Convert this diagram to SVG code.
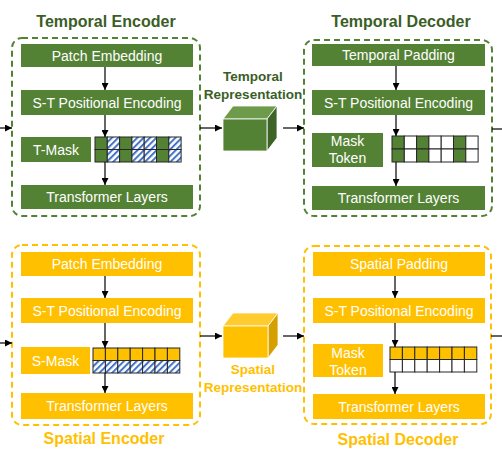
<svg xmlns="http://www.w3.org/2000/svg" width="502" height="467" viewBox="0 0 502 467">
<defs>
<style>
.g{fill:#548235}
.y{fill:#FFC000}
.lbl{font-family:"Liberation Sans",Arial,sans-serif;font-size:14px;fill:#fff;text-anchor:middle}
.tg{font-family:"Liberation Sans",Arial,sans-serif;font-size:16px;font-weight:bold;fill:#3B5E26;text-anchor:middle}
.ty{font-family:"Liberation Sans",Arial,sans-serif;font-size:16px;font-weight:bold;fill:#FFC000;text-anchor:middle}
.rg{font-family:"Liberation Sans",Arial,sans-serif;font-size:13.5px;font-weight:bold;fill:#3B5E26;text-anchor:middle}
.ry{font-family:"Liberation Sans",Arial,sans-serif;font-size:13.5px;font-weight:bold;fill:#FFC000;text-anchor:middle}
.dg{fill:none;stroke:#548235;stroke-width:2;stroke-dasharray:6 4}
.dy{fill:none;stroke:#FFC000;stroke-width:2;stroke-dasharray:6 4}
.cell{stroke:#262626;stroke-width:1}
.ln{stroke:#000;stroke-width:1.2;fill:none}
.ar{stroke:#000;stroke-width:1.2;fill:none;marker-end:url(#ah)}
</style>
<marker id="ah" viewBox="0 0 10 10" refX="10" refY="5" markerWidth="7" markerHeight="7" markerUnits="userSpaceOnUse" orient="auto">
<path d="M0,0 L10,5 L0,10 z" fill="#000"/>
</marker>
<pattern id="hatch" patternUnits="userSpaceOnUse" width="4.5" height="4.5" patternTransform="rotate(45)">
<rect width="4.5" height="4.5" fill="#fff"/>
<rect x="0" y="0" width="2" height="4.5" fill="#4472C4"/>
</pattern>
</defs>

<!-- Temporal Encoder -->
<g id="temporal-encoder">
<text class="tg" x="106" y="27">Temporal Encoder</text>
<rect class="dg" x="12" y="38" width="188" height="178" rx="10"/>
<rect class="g" x="21" y="44" width="172" height="23"/>
<text class="lbl" x="107" y="60.5">Patch Embedding</text>
<rect class="g" x="21" y="90" width="172" height="25"/>
<text class="lbl" x="107" y="107.5">S-T Positional Encoding</text>
<rect class="g" x="21" y="137" width="70" height="25"/>
<text class="lbl" x="56" y="154.5">T-Mask</text>
<g id="t-mask-grid">
<rect class="cell" x="95" y="137" width="12.3" height="12.5" fill="#548235"/>
<rect class="cell" x="107.3" y="137" width="12.3" height="12.5" fill="url(#hatch)"/>
<rect class="cell" x="119.6" y="137" width="12.3" height="12.5" fill="#548235"/>
<rect class="cell" x="131.9" y="137" width="12.3" height="12.5" fill="url(#hatch)"/>
<rect class="cell" x="144.2" y="137" width="12.3" height="12.5" fill="url(#hatch)"/>
<rect class="cell" x="156.5" y="137" width="12.3" height="12.5" fill="#548235"/>
<rect class="cell" x="168.8" y="137" width="12.3" height="12.5" fill="url(#hatch)"/>
<rect class="cell" x="95" y="149.5" width="12.3" height="12.5" fill="#548235"/>
<rect class="cell" x="107.3" y="149.5" width="12.3" height="12.5" fill="url(#hatch)"/>
<rect class="cell" x="119.6" y="149.5" width="12.3" height="12.5" fill="#548235"/>
<rect class="cell" x="131.9" y="149.5" width="12.3" height="12.5" fill="url(#hatch)"/>
<rect class="cell" x="144.2" y="149.5" width="12.3" height="12.5" fill="url(#hatch)"/>
<rect class="cell" x="156.5" y="149.5" width="12.3" height="12.5" fill="#548235"/>
<rect class="cell" x="168.8" y="149.5" width="12.3" height="12.5" fill="url(#hatch)"/>
</g>
<rect class="g" x="21" y="185" width="172" height="24"/>
<text class="lbl" x="107" y="202">Transformer Layers</text>
</g>

<!-- Temporal Representation -->
<g id="temporal-representation">
<text class="rg" x="253" y="81">Temporal</text>
<text class="rg" x="253" y="99">Representation</text>
<polygon points="223,119 233,106 277,106 267,119" fill="#6E9A4C" stroke="#fff" stroke-width="0.8"/>
<polygon points="267,119 277,106 277,138 267,151" fill="#3E6327" stroke="#fff" stroke-width="0.8"/>
<rect x="223" y="119" width="44" height="32" fill="#548235" stroke="#fff" stroke-width="0.8"/>
</g>

<!-- Temporal Decoder -->
<g id="temporal-decoder">
<text class="tg" x="401" y="27">Temporal Decoder</text>
<rect class="dg" x="304" y="40" width="188" height="176" rx="10"/>
<rect class="g" x="312" y="44" width="173" height="22"/>
<text class="lbl" x="398.5" y="60">Temporal Padding</text>
<rect class="g" x="312" y="90" width="173" height="25"/>
<text class="lbl" x="398.5" y="107.5">S-T Positional Encoding</text>
<rect class="g" x="312" y="133" width="71" height="34"/>
<text class="lbl" x="347.5" y="146">Mask</text>
<text class="lbl" x="347.5" y="163">Token</text>
<g id="t-token-grid">
<rect class="cell" x="392" y="136" width="12.3" height="13" fill="#548235"/>
<rect class="cell" x="404.3" y="136" width="12.3" height="13" fill="#fff"/>
<rect class="cell" x="416.6" y="136" width="12.3" height="13" fill="#548235"/>
<rect class="cell" x="428.9" y="136" width="12.3" height="13" fill="#fff"/>
<rect class="cell" x="441.2" y="136" width="12.3" height="13" fill="#fff"/>
<rect class="cell" x="453.5" y="136" width="12.3" height="13" fill="#548235"/>
<rect class="cell" x="465.8" y="136" width="12.3" height="13" fill="#fff"/>
<rect class="cell" x="392" y="149" width="12.3" height="13" fill="#548235"/>
<rect class="cell" x="404.3" y="149" width="12.3" height="13" fill="#fff"/>
<rect class="cell" x="416.6" y="149" width="12.3" height="13" fill="#548235"/>
<rect class="cell" x="428.9" y="149" width="12.3" height="13" fill="#fff"/>
<rect class="cell" x="441.2" y="149" width="12.3" height="13" fill="#fff"/>
<rect class="cell" x="453.5" y="149" width="12.3" height="13" fill="#548235"/>
<rect class="cell" x="465.8" y="149" width="12.3" height="13" fill="#fff"/>
</g>
<rect class="g" x="312" y="186" width="173" height="24"/>
<text class="lbl" x="398.5" y="203">Transformer Layers</text>
</g>

<!-- Spatial Encoder -->
<g id="spatial-encoder">
<rect class="dy" x="12" y="245" width="188" height="180" rx="10"/>
<rect class="y" x="21" y="252" width="172" height="24"/>
<text class="lbl" x="107" y="269">Patch Embedding</text>
<rect class="y" x="21" y="298" width="172" height="25"/>
<text class="lbl" x="107" y="315.5">S-T Positional Encoding</text>
<rect class="y" x="21" y="347" width="69" height="27"/>
<text class="lbl" x="55.5" y="365.5">S-Mask</text>
<g id="s-mask-grid">
<rect class="cell" x="93" y="348" width="12.4" height="12.5" fill="#FFC000"/>
<rect class="cell" x="105.4" y="348" width="12.4" height="12.5" fill="#FFC000"/>
<rect class="cell" x="117.8" y="348" width="12.4" height="12.5" fill="#FFC000"/>
<rect class="cell" x="130.2" y="348" width="12.4" height="12.5" fill="#FFC000"/>
<rect class="cell" x="142.6" y="348" width="12.4" height="12.5" fill="#FFC000"/>
<rect class="cell" x="155" y="348" width="12.4" height="12.5" fill="#FFC000"/>
<rect class="cell" x="167.4" y="348" width="12.4" height="12.5" fill="#FFC000"/>
<rect class="cell" x="93" y="360.5" width="12.4" height="12.5" fill="url(#hatch)"/>
<rect class="cell" x="105.4" y="360.5" width="12.4" height="12.5" fill="url(#hatch)"/>
<rect class="cell" x="117.8" y="360.5" width="12.4" height="12.5" fill="url(#hatch)"/>
<rect class="cell" x="130.2" y="360.5" width="12.4" height="12.5" fill="url(#hatch)"/>
<rect class="cell" x="142.6" y="360.5" width="12.4" height="12.5" fill="url(#hatch)"/>
<rect class="cell" x="155" y="360.5" width="12.4" height="12.5" fill="url(#hatch)"/>
<rect class="cell" x="167.4" y="360.5" width="12.4" height="12.5" fill="url(#hatch)"/>
</g>
<rect class="y" x="21" y="393" width="172" height="26"/>
<text class="lbl" x="107" y="411">Transformer Layers</text>
<text class="ty" x="104" y="444">Spatial Encoder</text>
</g>

<!-- Spatial Representation -->
<g id="spatial-representation">
<polygon points="223,326 233,313 278,313 268,326" fill="#FFCB2E" stroke="#fff" stroke-width="0.8"/>
<polygon points="268,326 278,313 278,345 268,358" fill="#D6A000" stroke="#fff" stroke-width="0.8"/>
<rect x="223" y="326" width="45" height="32" fill="#FFC000" stroke="#fff" stroke-width="0.8"/>
<text class="ry" x="253" y="374">Spatial</text>
<text class="ry" x="253" y="392">Representation</text>
</g>

<!-- Spatial Decoder -->
<g id="spatial-decoder">
<rect class="dy" x="304" y="246" width="187" height="178" rx="10"/>
<rect class="y" x="313" y="252" width="172" height="24"/>
<text class="lbl" x="399" y="269">Spatial Padding</text>
<rect class="y" x="313" y="298" width="172" height="25"/>
<text class="lbl" x="399" y="315.5">S-T Positional Encoding</text>
<rect class="y" x="313" y="344" width="70" height="33"/>
<text class="lbl" x="348" y="358">Mask</text>
<text class="lbl" x="348" y="375">Token</text>
<g id="s-token-grid">
<rect class="cell" x="390" y="347" width="12.4" height="12.5" fill="#FFC000"/>
<rect class="cell" x="402.4" y="347" width="12.4" height="12.5" fill="#FFC000"/>
<rect class="cell" x="414.8" y="347" width="12.4" height="12.5" fill="#FFC000"/>
<rect class="cell" x="427.2" y="347" width="12.4" height="12.5" fill="#FFC000"/>
<rect class="cell" x="439.6" y="347" width="12.4" height="12.5" fill="#FFC000"/>
<rect class="cell" x="452" y="347" width="12.4" height="12.5" fill="#FFC000"/>
<rect class="cell" x="464.4" y="347" width="12.4" height="12.5" fill="#FFC000"/>
<rect class="cell" x="390" y="359.5" width="12.4" height="12.5" fill="#fff"/>
<rect class="cell" x="402.4" y="359.5" width="12.4" height="12.5" fill="#fff"/>
<rect class="cell" x="414.8" y="359.5" width="12.4" height="12.5" fill="#fff"/>
<rect class="cell" x="427.2" y="359.5" width="12.4" height="12.5" fill="#fff"/>
<rect class="cell" x="439.6" y="359.5" width="12.4" height="12.5" fill="#fff"/>
<rect class="cell" x="452" y="359.5" width="12.4" height="12.5" fill="#fff"/>
<rect class="cell" x="464.4" y="359.5" width="12.4" height="12.5" fill="#fff"/>
</g>
<rect class="y" x="313" y="394" width="172" height="25"/>
<text class="lbl" x="399" y="411.5">Transformer Layers</text>
<text class="ty" x="398" y="445">Spatial Decoder</text>
</g>

<!-- Connectors -->
<g id="connectors">
<line class="ar" x1="0" y1="128" x2="12" y2="128"/>
<line class="ar" x1="105" y1="67" x2="105" y2="90"/>
<line class="ar" x1="105" y1="115" x2="105" y2="137"/>
<line class="ar" x1="105" y1="162" x2="105" y2="185"/>
<line class="ar" x1="200" y1="128" x2="222" y2="128"/>
<line class="ar" x1="283" y1="128" x2="304" y2="128"/>
<line class="ar" x1="396" y1="66" x2="396" y2="90"/>
<line class="ar" x1="396" y1="115" x2="396" y2="136"/>
<line class="ar" x1="396" y1="162" x2="396" y2="186"/>
<line class="ln" x1="492" y1="129" x2="502" y2="129"/>

<line class="ar" x1="0" y1="343" x2="12" y2="343"/>
<line class="ar" x1="105" y1="276" x2="105" y2="298"/>
<line class="ar" x1="105" y1="323" x2="105" y2="348"/>
<line class="ar" x1="105" y1="373" x2="105" y2="393"/>
<line class="ar" x1="200" y1="336" x2="222" y2="336"/>
<line class="ar" x1="283" y1="336" x2="304" y2="336"/>
<line class="ar" x1="395" y1="276" x2="395" y2="298"/>
<line class="ar" x1="395" y1="323" x2="395" y2="347"/>
<line class="ar" x1="395" y1="372" x2="395" y2="394"/>
<line class="ln" x1="491" y1="336" x2="502" y2="336"/>
</g>
</svg>
